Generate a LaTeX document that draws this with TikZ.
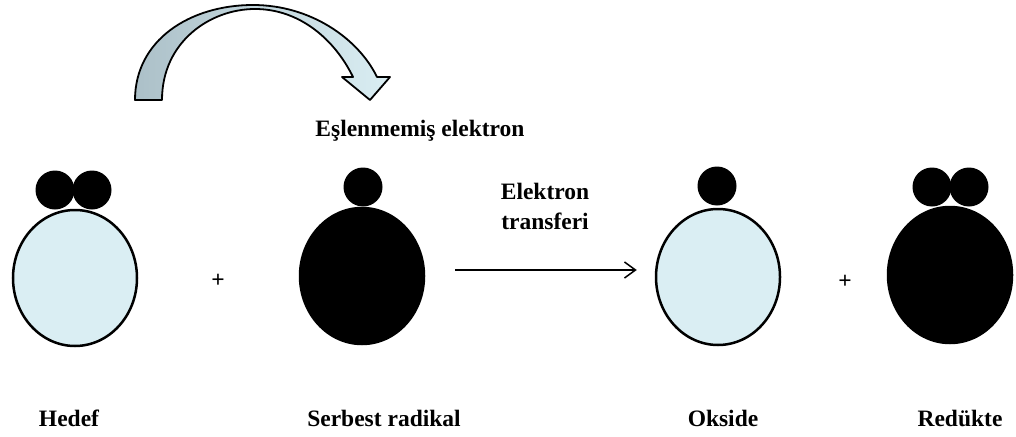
\documentclass[tikz,border=0pt]{standalone}
\usepackage{fontspec}
\setmainfont{Liberation Serif}
\usetikzlibrary{positioning,arrows.meta}
\usetikzlibrary{shapes.geometric}

\definecolor{cellblue}{HTML}{DAEEF3}
\definecolor{arrowgray}{RGB}{172,192,200}

\tikzset{
  body/.style={ellipse, draw=black, line width=2.5pt, minimum width=124pt, minimum height=136pt, inner sep=0pt},
  electron/.style={circle, fill=black, minimum size=39pt, inner sep=0pt},
  lbl/.style={font=\bfseries\fontsize{23.5}{30}\selectfont}
}

\begin{document}
\begin{tikzpicture}[x=1pt,y=-1pt]
  \useasboundingbox (0,0) rectangle (1016,436);
  % curved arrow
  \shade[left color=arrowgray, right color=cellblue, draw=black, line width=1.8pt, line join=round]
    (135,100) .. controls (135,40) and (190,5) .. (253,5)
    .. controls (310,5) and (358,38) .. (377,77)
    -- (390,77) -- (370,100) -- (342,77) -- (353,77)
    .. controls (335,40) and (300,9) .. (255,9)
    .. controls (210,9) and (162,42) .. (162,100) -- cycle;
  \node[lbl] (unpaired) at (420,131) {Eşlenmemiş elektron};

  % hedef
  \node[electron] (hedefea) at (55,190) {};
  \node[electron] (hedefeb) at (92,190) {};
  \node[body, fill=cellblue] (hedef) at (75,278) {};
  \node[lbl] at (218,281) {+};

  % serbest radikal
  \node[electron] (radikale) at (363,187) {};
  \node[body, fill=black] (radikal) at (362,276) {};

  % okside
  \node[electron] (oksidee) at (717,186) {};
  \node[body, fill=cellblue] (okside) at (718,277) {};
  \node[lbl] at (845,282) {+};

  % transfer
  \draw[line width=1.5pt, -{Straight Barb[length=11pt,width=16pt]}]
    ([xshift=30pt,yshift=6pt]radikal.east) -- ([xshift=-18pt,yshift=7pt]okside.west);
  \node[lbl, align=center] (transfer) at (545,206) {Elektron\\transferi};

  % redukte
  \node[electron] (reduktea) at (932,187) {};
  \node[electron] (redukteb) at (969,187) {};
  \node[body, fill=black] (redukte) at (950,275) {};

  % labels
  \node[lbl] (lhedef) at (69,418) {Hedef};
  \node[lbl] (lradikal) at (384,418) {Serbest radikal};
  \node[lbl] (lokside) at (723,418) {Okside};
  \node[lbl] (lredukte) at (960,418) {Redükte};
\end{tikzpicture}
\end{document}
